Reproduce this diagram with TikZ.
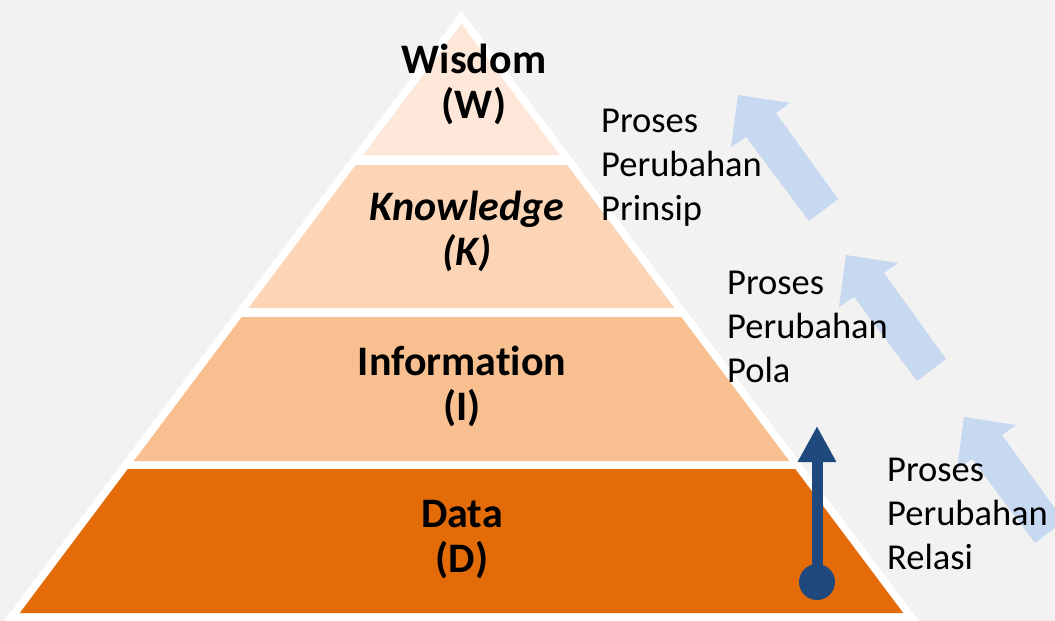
\documentclass[tikz,border=0pt]{standalone}
\usepackage{fontspec}
\setmainfont[RawFeature=-liga]{Carlito}
\usetikzlibrary{arrows.meta}
\definecolor{bg}{RGB}{242,242,242}
\definecolor{layerW}{RGB}{253,231,216}
\definecolor{layerK}{RGB}{251,213,181}
\definecolor{layerI}{RGB}{248,192,145}
\definecolor{layerD}{RGB}{227,108,9}
\definecolor{lightblue}{RGB}{198,217,240}
\definecolor{darkblue}{RGB}{31,73,125}
\begin{document}
\begin{tikzpicture}[x=1pt,y=-1pt,
  title/.style={font=\fontsize{42}{45}\selectfont\bfseries, align=center, anchor=base, inner sep=0pt, text=black},
  side/.style={font=\fontsize{36.5}{44}\selectfont, align=left, anchor=base west, inner sep=0pt, text=black},
  blockarrow/.style={fill=lightblue}]
\fill[bg] (0,0) rectangle (1055,621);
\useasboundingbox (0,0) rectangle (1055,621);
\clip (0,0) rectangle (1055,621);
% pyramid
\fill[white] (461.5,11) -- (4,621) -- (919,621) -- cycle;
\fill[layerW] (461.5,24) -- (363.25,155) -- (559.75,155) -- cycle;
\fill[layerK] (355.75,165) -- (248.5,308) -- (674.5,308) -- (567.25,165) -- cycle;
\fill[layerI] (241.75,317) -- (133.75,461) -- (789.25,461) -- (681.25,317) -- cycle;
\fill[layerD] (127.75,469) -- (19.75,613) -- (903.25,613) -- (795.25,469) -- cycle;
% light block arrows
\foreach \tx/\ty in {738/95, 846/255, 964/417}{
  \fill[blockarrow, shift={(\tx,\ty)}] (0,0) -- (52,8) -- (38,18) -- (100,104) -- (71,126) -- (8,42) -- (-7,52) -- cycle;
}
% titles (anchor = baseline of the last line)
\node[title] (w) at (474,118) {Wisdom\\(W)};
\node[title] (k) at (467,265) {\itshape Knowledge\\\itshape (K)};
\node[title] (i) at (462,420) {Information\\(I)};
\node[title] (d) at (462,572) {Data\\(D)};
% side texts
\node[side] (s1) at (601,220) {Proses\\Perubahan\\Prinsip};
\node[side] (s2) at (727,382) {Proses\\Perubahan\\Pola};
\node[side] (s3) at (887,569) {Proses\\Perubahan\\Relasi};
% dark arrow
\node[circle, fill=darkblue, minimum size=36pt, inner sep=0pt] (c) at (817,582) {};
\coordinate (tip) at (817,426);
\draw[darkblue, line width=11pt, -{Triangle[length=36pt, width=36pt]}] (c.center) -- (tip);
\end{tikzpicture}
\end{document}
